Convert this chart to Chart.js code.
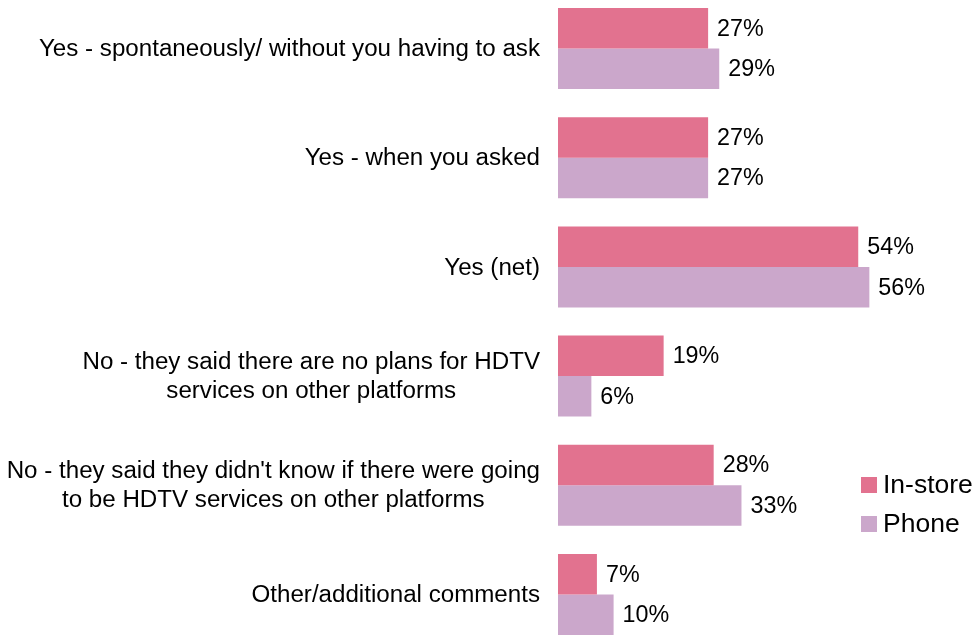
<!DOCTYPE html>
<html>
<head>
<meta charset="utf-8">
<script src="https://cdn.jsdelivr.net/npm/chart.js@4/dist/chart.umd.min.js"></script>
<style>
  html, body { margin: 0; padding: 0; background: #fff; }
  #wrap { width: 975px; height: 635px; position: relative; overflow: hidden; }
  #hdtv_chart { position: absolute; left: 0; top: -6px; }
</style>
</head>
<body>
<div id="wrap"><canvas id="hdtv_chart"></canvas></div>
<script>
const categories = [
  "Yes - spontaneously/ without you having to ask",
  "Yes - when you asked",
  "Yes (net)",
  ["No - they said there are no plans for HDTV", "services on other platforms"],
  ["No - they said they didn't know if there were going", "to be HDTV services on other platforms"],
  "Other/additional comments"
];
const in_store = [27, 27, 54, 19, 28, 7];
const phone = [29, 27, 56, 6, 33, 10];

const FONT = '"Liberation Sans", Arial, sans-serif';

// category labels: block right-aligned to the axis, lines centred inside the block
const category_labels = {
  id: 'category_labels',
  afterDraw(chart) {
    const ctx = chart.ctx;
    const y_scale = chart.scales.y;
    const right = y_scale.right - 18;
    const line_h = 29;
    ctx.save();
    ctx.font = '24.15px ' + FONT;
    ctx.fillStyle = '#000';
    ctx.textAlign = 'center';
    ctx.textBaseline = 'middle';
    chart.data.labels.forEach((lbl, i) => {
      const lines = Array.isArray(lbl) ? lbl : [lbl];
      const widest = Math.max(...lines.map(l => ctx.measureText(l).width));
      const cx = right - widest / 2;
      const cy = y_scale.getPixelForValue(i) + 1;
      lines.forEach((l, k) => {
        ctx.fillText(l, cx, cy + (k - (lines.length - 1) / 2) * line_h);
      });
    });
    ctx.restore();
  }
};

// value labels to the right of each bar
const value_labels = {
  id: 'value_labels',
  afterDatasetsDraw(chart) {
    const ctx = chart.ctx;
    ctx.save();
    ctx.font = '23.3px ' + FONT;
    ctx.fillStyle = '#000';
    ctx.textAlign = 'left';
    ctx.textBaseline = 'middle';
    chart.data.datasets.forEach((ds, i) => {
      chart.getDatasetMeta(i).data.forEach((bar, j) => {
        ctx.fillText(ds.data[j] + '%', bar.x + 9, bar.y + 1);
      });
    });
    ctx.restore();
  }
};

// legend in the lower right corner
const corner_legend = {
  id: 'corner_legend',
  afterDraw(chart) {
    const ctx = chart.ctx;
    const x = chart.width - 114;
    const ys = [483, 522];
    ctx.save();
    ctx.font = '26.5px ' + FONT;
    ctx.textBaseline = 'middle';
    chart.data.datasets.forEach((ds, i) => {
      ctx.fillStyle = ds.backgroundColor;
      ctx.fillRect(x, ys[i], 16, 16);
      ctx.fillStyle = '#000';
      ctx.fillText(ds.label, x + 22, ys[i] + 9);
    });
    ctx.restore();
  }
};

const hdtv_data = {
  labels: categories,
  datasets: [
    { label: 'In-store', data: in_store, backgroundColor: 'rgb(226, 114, 143)' },
    { label: 'Phone', data: phone, backgroundColor: 'rgb(203, 167, 203)' }
  ]
};

const hdtv_config = {
  type: 'bar',
  data: hdtv_data,
  options: {
    indexAxis: 'y',
    responsive: false,
    animation: false,
    layout: { padding: 0 },
    datasets: {
      bar: { categoryPercentage: 0.742, barPercentage: 1 }
    },
    plugins: {
      legend: { display: false },
      tooltip: { enabled: false }
    },
    scales: {
      x: { display: false, min: 0, max: 75 },
      y: {
        grid: { display: false, drawTicks: false },
        border: { display: false },
        ticks: { display: false },
        afterFit(scale) { scale.width = 558; }
      }
    }
  },
  plugins: [category_labels, value_labels, corner_legend]
};

const canvas = document.getElementById('hdtv_chart');
canvas.width = 975;
canvas.height = 655;
const hdtv_chart = new Chart(canvas, hdtv_config);
</script>
</body>
</html>
